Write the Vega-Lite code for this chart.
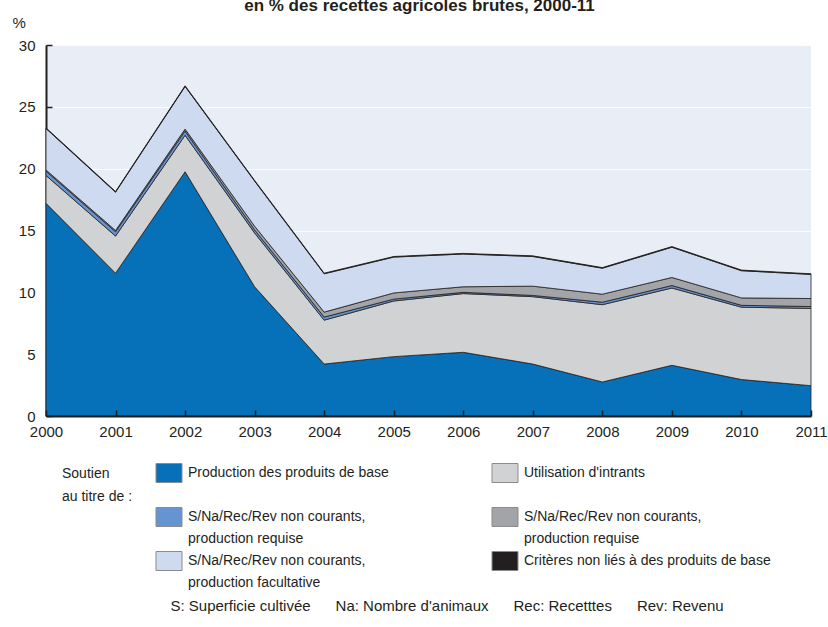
{
  "$schema": "https://vega.github.io/schema/vega-lite/v6.json",
  "width": 765,
  "height": 371,
  "autosize": {"type": "none"},
  "padding": {"left": 46, "top": 45, "right": 17, "bottom": 211},
  "background": "white",
  "title": {
    "text": "en % des recettes agricoles brutes, 2000-11",
    "fontSize": 17,
    "fontWeight": "bold",
    "font": "Liberation Sans, Arial, sans-serif",
    "color": "#231f20",
    "anchor": "middle",
    "frame": "group",
    "offset": 0,
    "dx": -9
  },
  "config": {
    "font": "Liberation Sans, Arial, sans-serif",
    "view": {"fill": "#e9edf6", "stroke": null}
  },
  "data": {
    "values": [
      {"annee": 2000, "serie": "Production des produits de base", "valeur": 17.2},
      {"annee": 2001, "serie": "Production des produits de base", "valeur": 11.55},
      {"annee": 2002, "serie": "Production des produits de base", "valeur": 19.75},
      {"annee": 2003, "serie": "Production des produits de base", "valeur": 10.45},
      {"annee": 2004, "serie": "Production des produits de base", "valeur": 4.2},
      {"annee": 2005, "serie": "Production des produits de base", "valeur": 4.8},
      {"annee": 2006, "serie": "Production des produits de base", "valeur": 5.15},
      {"annee": 2007, "serie": "Production des produits de base", "valeur": 4.2},
      {"annee": 2008, "serie": "Production des produits de base", "valeur": 2.75},
      {"annee": 2009, "serie": "Production des produits de base", "valeur": 4.1},
      {"annee": 2010, "serie": "Production des produits de base", "valeur": 2.95},
      {"annee": 2011, "serie": "Production des produits de base", "valeur": 2.45},
      {"annee": 2000, "serie": "Utilisation d'intrants", "valeur": 2.25},
      {"annee": 2001, "serie": "Utilisation d'intrants", "valeur": 3.0},
      {"annee": 2002, "serie": "Utilisation d'intrants", "valeur": 2.95},
      {"annee": 2003, "serie": "Utilisation d'intrants", "valeur": 4.35},
      {"annee": 2004, "serie": "Utilisation d'intrants", "valeur": 3.55},
      {"annee": 2005, "serie": "Utilisation d'intrants", "valeur": 4.5},
      {"annee": 2006, "serie": "Utilisation d'intrants", "valeur": 4.75},
      {"annee": 2007, "serie": "Utilisation d'intrants", "valeur": 5.45},
      {"annee": 2008, "serie": "Utilisation d'intrants", "valeur": 6.25},
      {"annee": 2009, "serie": "Utilisation d'intrants", "valeur": 6.25},
      {"annee": 2010, "serie": "Utilisation d'intrants", "valeur": 5.85},
      {"annee": 2011, "serie": "Utilisation d'intrants", "valeur": 6.25},
      {"annee": 2000, "serie": "S/Na/Rec/Rev courants, production requise", "valeur": 0.35},
      {"annee": 2001, "serie": "S/Na/Rec/Rev courants, production requise", "valeur": 0.35},
      {"annee": 2002, "serie": "S/Na/Rec/Rev courants, production requise", "valeur": 0.35},
      {"annee": 2003, "serie": "S/Na/Rec/Rev courants, production requise", "valeur": 0.25},
      {"annee": 2004, "serie": "S/Na/Rec/Rev courants, production requise", "valeur": 0.25},
      {"annee": 2005, "serie": "S/Na/Rec/Rev courants, production requise", "valeur": 0.15},
      {"annee": 2006, "serie": "S/Na/Rec/Rev courants, production requise", "valeur": 0.1},
      {"annee": 2007, "serie": "S/Na/Rec/Rev courants, production requise", "valeur": 0.1},
      {"annee": 2008, "serie": "S/Na/Rec/Rev courants, production requise", "valeur": 0.2},
      {"annee": 2009, "serie": "S/Na/Rec/Rev courants, production requise", "valeur": 0.2},
      {"annee": 2010, "serie": "S/Na/Rec/Rev courants, production requise", "valeur": 0.15},
      {"annee": 2011, "serie": "S/Na/Rec/Rev courants, production requise", "valeur": 0.15},
      {"annee": 2000, "serie": "S/Na/Rec/Rev non courants, production requise", "valeur": 0.1},
      {"annee": 2001, "serie": "S/Na/Rec/Rev non courants, production requise", "valeur": 0.1},
      {"annee": 2002, "serie": "S/Na/Rec/Rev non courants, production requise", "valeur": 0.15},
      {"annee": 2003, "serie": "S/Na/Rec/Rev non courants, production requise", "valeur": 0.3},
      {"annee": 2004, "serie": "S/Na/Rec/Rev non courants, production requise", "valeur": 0.4},
      {"annee": 2005, "serie": "S/Na/Rec/Rev non courants, production requise", "valeur": 0.5},
      {"annee": 2006, "serie": "S/Na/Rec/Rev non courants, production requise", "valeur": 0.45},
      {"annee": 2007, "serie": "S/Na/Rec/Rev non courants, production requise", "valeur": 0.75},
      {"annee": 2008, "serie": "S/Na/Rec/Rev non courants, production requise", "valeur": 0.65},
      {"annee": 2009, "serie": "S/Na/Rec/Rev non courants, production requise", "valeur": 0.65},
      {"annee": 2010, "serie": "S/Na/Rec/Rev non courants, production requise", "valeur": 0.6},
      {"annee": 2011, "serie": "S/Na/Rec/Rev non courants, production requise", "valeur": 0.65},
      {"annee": 2000, "serie": "S/Na/Rec/Rev non courants, production facultative", "valeur": 3.35},
      {"annee": 2001, "serie": "S/Na/Rec/Rev non courants, production facultative", "valeur": 3.1},
      {"annee": 2002, "serie": "S/Na/Rec/Rev non courants, production facultative", "valeur": 3.45},
      {"annee": 2003, "serie": "S/Na/Rec/Rev non courants, production facultative", "valeur": 3.65},
      {"annee": 2004, "serie": "S/Na/Rec/Rev non courants, production facultative", "valeur": 3.1},
      {"annee": 2005, "serie": "S/Na/Rec/Rev non courants, production facultative", "valeur": 2.9},
      {"annee": 2006, "serie": "S/Na/Rec/Rev non courants, production facultative", "valeur": 2.65},
      {"annee": 2007, "serie": "S/Na/Rec/Rev non courants, production facultative", "valeur": 2.4},
      {"annee": 2008, "serie": "S/Na/Rec/Rev non courants, production facultative", "valeur": 2.1},
      {"annee": 2009, "serie": "S/Na/Rec/Rev non courants, production facultative", "valeur": 2.45},
      {"annee": 2010, "serie": "S/Na/Rec/Rev non courants, production facultative", "valeur": 2.2},
      {"annee": 2011, "serie": "S/Na/Rec/Rev non courants, production facultative", "valeur": 1.95},
      {"annee": 2000, "serie": "Critères non liés à des produits de base", "valeur": 0.05},
      {"annee": 2001, "serie": "Critères non liés à des produits de base", "valeur": 0.05},
      {"annee": 2002, "serie": "Critères non liés à des produits de base", "valeur": 0.05},
      {"annee": 2003, "serie": "Critères non liés à des produits de base", "valeur": 0.05},
      {"annee": 2004, "serie": "Critères non liés à des produits de base", "valeur": 0.05},
      {"annee": 2005, "serie": "Critères non liés à des produits de base", "valeur": 0.05},
      {"annee": 2006, "serie": "Critères non liés à des produits de base", "valeur": 0.05},
      {"annee": 2007, "serie": "Critères non liés à des produits de base", "valeur": 0.05},
      {"annee": 2008, "serie": "Critères non liés à des produits de base", "valeur": 0.05},
      {"annee": 2009, "serie": "Critères non liés à des produits de base", "valeur": 0.05},
      {"annee": 2010, "serie": "Critères non liés à des produits de base", "valeur": 0.05},
      {"annee": 2011, "serie": "Critères non liés à des produits de base", "valeur": 0.05}
    ]
  },
  "transform": [
    {"calculate": "indexof([\"Production des produits de base\", \"Utilisation d'intrants\", \"S/Na/Rec/Rev courants, production requise\", \"S/Na/Rec/Rev non courants, production requise\", \"S/Na/Rec/Rev non courants, production facultative\", \"Critères non liés à des produits de base\"], datum.serie)", "as": "rang"}
  ],
  "mark": {"type": "area", "stroke": "#231f20", "strokeWidth": 0.8},
  "encoding": {
    "x": {
      "field": "annee",
      "type": "quantitative",
      "scale": {"domain": [2000, 2011], "nice": false, "zero": false},
      "axis": {
        "zindex": 1,
        "values": [2000, 2001, 2002, 2003, 2004, 2005, 2006, 2007, 2008, 2009, 2010, 2011],
        "format": "d",
        "ticks": true,
        "tickSize": -6,
        "tickWidth": 1.5,
        "tickColor": "#231f20",
        "domainColor": "#231f20",
        "domainWidth": 2,
        "labelFontSize": 15,
        "labelColor": "#231f20",
        "labelPadding": 14,
        "labelFlush": false,
        "grid": false,
        "title": "S: Superficie cultivée\u00a0\u00a0\u00a0\u00a0\u00a0 Na: Nombre d'animaux\u00a0\u00a0\u00a0\u00a0\u00a0 Rec: Recetttes\u00a0\u00a0\u00a0\u00a0\u00a0 Rev: Revenu",
        "titleX": 124,
        "titleY": 189,
        "titleAlign": "left",
        "titleBaseline": "middle",
        "titleFontSize": 15,
        "titleFontWeight": "normal",
        "titleColor": "#231f20"
      }
    },
    "y": {
      "field": "valeur",
      "type": "quantitative",
      "stack": "zero",
      "scale": {"domain": [0, 30], "nice": false},
      "axis": {
        "values": [0, 5, 10, 15, 20, 25, 30],
        "ticks": true,
        "tickSize": -6,
        "tickWidth": 1.5,
        "tickColor": "#231f20",
        "domainColor": "#231f20",
        "domainWidth": 2,
        "labelFontSize": 15,
        "labelColor": "#231f20",
        "labelPadding": 17,
        "grid": true,
        "gridColor": "#ffffff",
        "gridOpacity": 0.8,
        "title": "%",
        "titleAngle": 0,
        "titleX": -34,
        "titleY": -23,
        "titleAlign": "left",
        "titleBaseline": "middle",
        "titleFontSize": 15,
        "titleFontWeight": "normal",
        "titleColor": "#231f20"
      }
    },
    "color": {
      "field": "serie",
      "type": "nominal",
      "scale": {
        "domain": ["Production des produits de base", "Utilisation d'intrants", "S/Na/Rec/Rev courants, production requise", "S/Na/Rec/Rev non courants, production requise", "S/Na/Rec/Rev non courants, production facultative", "Critères non liés à des produits de base"],
        "range": ["#0670b8", "#d1d2d4", "#6495d2", "#a3a4a8", "#cddaf0", "#231f20"]
      },
      "legend": {
        "orient": "none",
        "legendX": 16,
        "legendY": 418,
        "columns": 2,
        "direction": "horizontal",
        "title": ["Soutien", "au titre de :"],
        "titleOrient": "left",
        "titleAnchor": "start",
        "titleBaseline": "top",
        "titleFontSize": 14,
        "titleFontWeight": "normal",
        "titleColor": "#231f20",
        "titleLineHeight": 23,
        "titlePadding": 26,
        "labelFontSize": 14,
        "labelColor": "#231f20",
        "labelLimit": 400,
        "labelOffset": 9,
        "columnPadding": 100,
        "rowPadding": 3,
        "symbolSize": 361,
        "symbolType": "M-1.37,-1H1.37V1H-1.37Z",
        "symbolStrokeColor": "#8c8c8c",
        "symbolStrokeWidth": 1,
        "labelExpr": "indexof(datum.value, 'courants, production requise') >= 0 ? ['\u00a0S/Na/Rec/Rev non courants,', 'production requise'] : indexof(datum.value, 'production facultative') >= 0 ? ['\u00a0S/Na/Rec/Rev non courants,', 'production facultative'] : ['\u00a0' + datum.label, '']",
        "encode": {
          "symbols": {"update": {"stroke": {"value": "#8c8c8c"}, "strokeWidth": {"value": 1}}},
          "labels": {"update": {"lineHeight": {"value": 22}}},
          "title": {"update": {"dy": {"value": 4}}}
        }
      }
    },
    "order": {"field": "rang", "type": "quantitative"}
  }
}
